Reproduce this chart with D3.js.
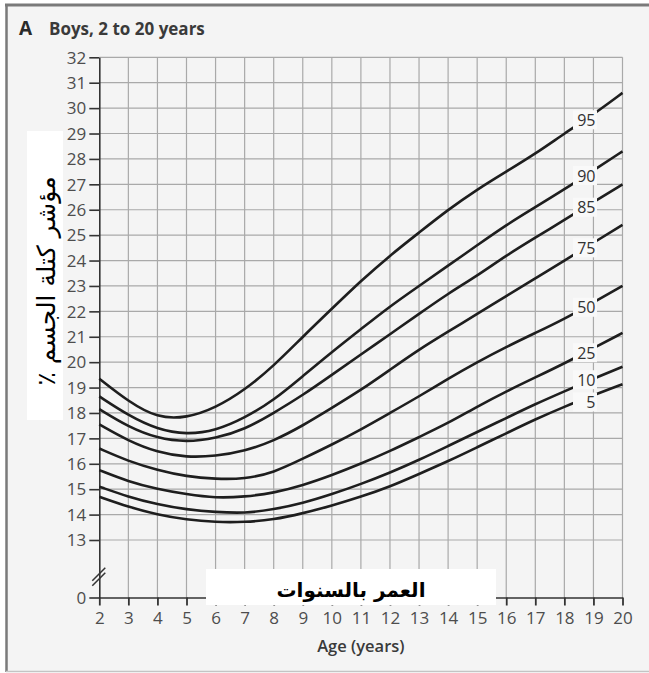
<!DOCTYPE html>
<html>
<head>
<meta charset="utf-8">
<script src="https://cdn.jsdelivr.net/npm/d3@7"></script>
<style>
  body { margin: 0; background: #fff; }
  svg { display: block; }
  text { font-family: "Open Sans", sans-serif; }
</style>
</head>
<body>
<svg id="chart" width="649" height="673"></svg>
<script>
// ages in years, one point per year
const ages = d3.range(2, 21);

// BMI percentiles for boys
const p5  = [14.7, 14.3, 14.0, 13.8, 13.7, 13.7, 13.8, 14.05, 14.35, 14.7, 15.1, 15.6, 16.1, 16.65, 17.2, 17.75, 18.25, 18.7, 19.13];
const p10 = [15.1, 14.7, 14.4, 14.2, 14.1, 14.05, 14.2, 14.45, 14.8, 15.2, 15.65, 16.15, 16.7, 17.25, 17.8, 18.35, 18.85, 19.35, 19.82];
const p25 = [15.75, 15.3, 15.0, 14.8, 14.65, 14.7, 14.85, 15.15, 15.55, 16.0, 16.5, 17.05, 17.6, 18.25, 18.85, 19.4, 19.95, 20.55, 21.15];
const p50 = [16.6, 16.1, 15.75, 15.5, 15.4, 15.4, 15.65, 16.2, 16.75, 17.35, 18.0, 18.65, 19.35, 20.0, 20.6, 21.15, 21.7, 22.35, 23.0];
const p75 = [17.55, 16.9, 16.45, 16.25, 16.3, 16.5, 16.9, 17.5, 18.2, 18.9, 19.7, 20.5, 21.2, 21.9, 22.6, 23.3, 24.0, 24.7, 25.4];
const p85 = [18.15, 17.45, 17.0, 16.85, 17.0, 17.35, 18.0, 18.7, 19.5, 20.3, 21.1, 21.9, 22.7, 23.4, 24.2, 24.9, 25.6, 26.3, 27.0];
const p90 = [18.65, 17.9, 17.35, 17.15, 17.3, 17.8, 18.5, 19.45, 20.4, 21.3, 22.2, 23.0, 23.8, 24.6, 25.4, 26.1, 26.8, 27.55, 28.3];
const p95 = [19.35, 18.45, 17.8, 17.8, 18.2, 18.9, 19.85, 21.0, 22.1, 23.2, 24.2, 25.1, 26.0, 26.8, 27.5, 28.2, 29.0, 29.75, 30.6];

const percentileNames = ["95", "90", "85", "75", "50", "25", "10", "5"];
const percentileValues = [p95, p90, p85, p75, p50, p25, p10, p5];

const yTicks = [0].concat(d3.range(13, 33));
const labelAge = 18.8;

const title = "Boys, 2 to 20 years";
const xTitle = "Age (years)";
const arYTitle = "مؤشر كتلة الجسم ٪";
const arXTitle = "العمر بالسنوات";

const svg = d3.select("#chart");

// panel frame
svg.append("rect")
  .attr("x", 7).attr("y", 5).attr("width", 642).attr("height", 666)
  .attr("fill", "#f4f4f4");
svg.append("line")
  .attr("x1", 5).attr("x2", 649).attr("y1", 5).attr("y2", 5)
  .attr("stroke", "#7a7a7a").attr("stroke-width", 3);
svg.append("line")
  .attr("x1", 6.5).attr("x2", 6.5).attr("y1", 4).attr("y2", 672)
  .attr("stroke", "#7a7a7a").attr("stroke-width", 2.5);
svg.append("line")
  .attr("x1", 6).attr("x2", 649).attr("y1", 671.5).attr("y2", 671.5)
  .attr("stroke", "#c4c4c4").attr("stroke-width", 1.5);

const x = d3.scaleLinear().domain([2, 20]).range([99.3, 622.5]);
// broken axis: 0 sits below the 13..32 range
const y = d3.scaleLinear().domain([0, 13, 32]).range([597.5, 540, 57.3]);

const grid = svg.append("g").attr("stroke", "#a9a9a9").attr("stroke-width", 1.2);
grid.selectAll(".hgrid")
  .data(d3.range(13, 33))
  .enter().append("line")
  .attr("class", "hgrid")
  .attr("x1", x(2)).attr("x2", x(20))
  .attr("y1", d => y(d)).attr("y2", d => y(d));
grid.selectAll(".vgrid")
  .data(ages.slice(1))
  .enter().append("line")
  .attr("class", "vgrid")
  .attr("x1", d => x(d)).attr("x2", d => x(d))
  .attr("y1", y(32)).attr("y2", y(0));

// y axis
const yAxis = svg.append("g")
  .attr("transform", `translate(${x(2)},0)`)
  .call(d3.axisLeft(y).tickValues(yTicks).tickSize(10).tickSizeOuter(0).tickPadding(3));
yAxis.select(".domain").attr("stroke", "#333").attr("stroke-width", 1.6);
yAxis.selectAll(".tick line").attr("stroke", "#333").attr("stroke-width", 1.6);
yAxis.selectAll(".tick text")
  .attr("fill", "#4d4d4d").style("font-size", "17px").attr("dy", "0.34em");

// x axis
const xAxis = svg.append("g")
  .attr("transform", `translate(0,${y(0)})`)
  .call(d3.axisBottom(x).tickValues(ages).tickSize(8).tickSizeOuter(0).tickPadding(6));
xAxis.select(".domain").attr("stroke", "#333").attr("stroke-width", 1.6);
xAxis.selectAll(".tick line").attr("stroke", "#333").attr("stroke-width", 1.8);
xAxis.selectAll(".tick text")
  .attr("fill", "#4d4d4d").style("font-size", "17px");

// axis break marks
const yb = (y(0) + y(13)) / 2 + 5;
[0, 5].forEach(off => {
  svg.append("line")
    .attr("x1", x(2) - 7).attr("y1", yb + 7 + off)
    .attr("x2", x(2) + 6).attr("y2", yb - 6 + off)
    .attr("stroke", "#333").attr("stroke-width", 1.5);
});

// percentile curves
const line = d3.line()
  .x((d, i) => x(ages[i]))
  .y(d => y(d))
  .curve(d3.curveBasis);

svg.append("g")
  .selectAll("path")
  .data(percentileValues)
  .enter().append("path")
  .attr("d", d => line(d))
  .attr("fill", "none")
  .attr("stroke", "#1e1e1e")
  .attr("stroke-width", 2.6);

// curve labels near age 18.8
const valueAt = (vals, age) => {
  const i = Math.floor(age) - 2;
  const t = age - Math.floor(age);
  return vals[i] + (vals[i + 1] - vals[i]) * t;
};
// small vertical nudges so the two lowest labels do not touch
const nudge = { "10": -3, "5": 3 };
const labels = svg.append("g");
percentileValues.forEach((vals, k) => {
  const name = percentileNames[k];
  const cy = y(valueAt(vals, labelAge)) + 2 + (nudge[name] || 0);
  labels.append("rect")
    .attr("x", 573).attr("y", cy - 10)
    .attr("width", 24).attr("height", 19)
    .attr("fill", "#f9f9f9");
  labels.append("text")
    .attr("x", 595.5).attr("y", cy)
    .attr("dy", "0.35em")
    .attr("text-anchor", "end")
    .attr("fill", "#333")
    .style("font-size", "16px")
    .text(name);
});

// titles
svg.append("text")
  .attr("x", 19).attr("y", 35)
  .style("font-size", "19px").style("font-weight", 700)
  .attr("fill", "#2a2a2a")
  .text("A");
svg.append("text")
  .attr("x", 49).attr("y", 35)
  .style("font-size", "17px").style("font-weight", 700)
  .attr("fill", "#3a3a3a")
  .text(title);
svg.append("text")
  .attr("x", (x(2) + x(20)) / 2).attr("y", 652)
  .attr("text-anchor", "middle")
  .style("font-size", "16.5px").style("font-weight", 600)
  .attr("fill", "#3a3a3a")
  .text(xTitle);

// Arabic labels on white boxes
svg.append("rect")
  .attr("x", 27).attr("y", 131).attr("width", 36).attr("height", 289)
  .attr("fill", "#fff");
svg.append("text")
  .attr("transform", "translate(46,281) rotate(-90)")
  .attr("direction", "rtl")
  .attr("text-anchor", "middle")
  .attr("dy", "0.35em")
  .style("font-family", "'DejaVu Sans', sans-serif")
  .style("font-size", "25px")
  .attr("fill", "#000")
  .text(arYTitle);

svg.append("rect")
  .attr("x", 206).attr("y", 569).attr("width", 290).attr("height", 36)
  .attr("fill", "#fff");
svg.append("text")
  .attr("x", 351).attr("y", 597)
  .attr("direction", "rtl")
  .attr("text-anchor", "middle")
  .style("font-family", "'DejaVu Sans', sans-serif")
  .style("font-size", "20px").style("font-weight", 700)
  .attr("fill", "#000")
  .text(arXTitle);
</script>
</body>
</html>
